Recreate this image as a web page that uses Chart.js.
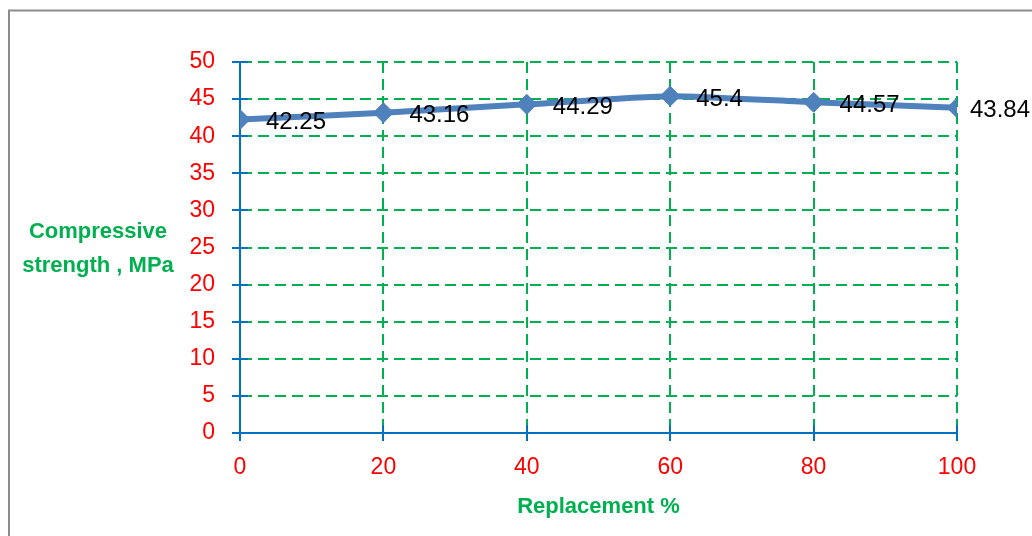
<!DOCTYPE html>
<html>
<head>
<meta charset="utf-8">
<script src="https://cdn.jsdelivr.net/npm/chart.js@4/dist/chart.umd.min.js"></script>
<style>
  html, body { margin: 0; padding: 0; background: #fff; }
  #wrap { width: 1032px; height: 536px; position: relative; }
</style>
</head>
<body>
<div id="wrap"><canvas id="c" width="1032" height="536"></canvas></div>
<script>
const replacement = [0, 20, 40, 60, 80, 100];
const strength = [42.25, 43.16, 44.29, 45.4, 44.57, 43.84];
const xTickValues = [0, 20, 40, 60, 80, 100];
const yTickValues = [0, 5, 10, 15, 20, 25, 30, 35, 40, 45, 50];
const yTitleLines = ['Compressive', 'strength , MPa'];
const xTitle = 'Replacement %';

const FONT = '"Liberation Sans", Arial, sans-serif';
const GREEN = '#00B050';
const BLUE = '#0070C0';
const LINE = '#4F81BD';

const gridColor = (ctx) => (ctx.tick && ctx.tick.value === 0) ? 'rgba(0,0,0,0)' : GREEN;

const extras = {
  id: 'extras',
  beforeDraw(chart) {
    const c = chart.ctx;
    c.save();
    c.strokeStyle = '#8c8c8c';
    c.lineWidth = 2;
    c.strokeRect(9, 10.5, 1200, 800);
    c.restore();
  },
  beforeDatasetsDraw(chart) {
    const c = chart.ctx;
    const xs = chart.scales.x, ys = chart.scales.y;
    const area = chart.chartArea;
    c.save();
    c.strokeStyle = BLUE;
    c.lineWidth = 2;
    c.beginPath();
    yTickValues.forEach(v => {
      const y = Math.round(ys.getPixelForValue(v));
      c.moveTo(area.left, y);
      c.lineTo(area.left + 8, y);
    });
    xTickValues.forEach(v => {
      const x = Math.round(xs.getPixelForValue(v));
      c.moveTo(x, area.bottom);
      c.lineTo(x, area.bottom - 8);
    });
    c.stroke();
    // titles
    c.fillStyle = GREEN;
    c.font = 'bold 22px ' + FONT;
    c.textAlign = 'center';
    c.textBaseline = 'middle';
    c.fillText(yTitleLines[0], 98, 232);
    c.fillText(yTitleLines[1], 98, 266);
    c.fillText(xTitle, (area.left + area.right) / 2, 507);
    c.restore();
  },
  afterDatasetsDraw(chart) {
    const c = chart.ctx;
    const meta = chart.getDatasetMeta(0);
    c.save();
    c.fillStyle = '#000';
    c.font = '24px ' + FONT;
    c.textAlign = 'left';
    c.textBaseline = 'middle';
    meta.data.forEach((pt, i) => {
      const off = (i === meta.data.length - 1) ? 13 : 26;
      c.fillText(String(strength[i]), pt.x + off, pt.y + 3);
    });
    c.restore();
  }
};

new Chart(document.getElementById('c'), {
  type: 'line',
  data: {
    datasets: [{
      data: replacement.map((x, i) => ({ x: x, y: strength[i] })),
      borderColor: LINE,
      backgroundColor: LINE,
      borderWidth: 6,
      pointStyle: 'rectRot',
      pointRadius: 10,
      pointBorderWidth: 1,
      pointBackgroundColor: LINE,
      pointBorderColor: LINE,
      tension: 0.2,
      fill: false
    }]
  },
  options: {
    responsive: false,
    animation: false,
    devicePixelRatio: 1,
    layout: { padding: { left: 0, right: 75, top: 62, bottom: 0 } },
    plugins: { legend: { display: false }, tooltip: { enabled: false }, title: { display: false } },
    scales: {
      x: {
        type: 'linear',
        min: 0, max: 100,
        afterBuildTicks: (s) => { s.ticks = xTickValues.map(v => ({ value: v })); },
        afterFit: (s) => { s.height = 103; },
        ticks: { color: '#FF0000', font: { family: FONT, size: 23 }, padding: 13 },
        grid: { color: gridColor, lineWidth: 2, tickColor: BLUE, tickLength: 8, tickWidth: 2, tickBorderDash: [] },
        border: { display: true, color: BLUE, width: 2, dash: [11, 6] }
      },
      y: {
        type: 'linear',
        min: 0, max: 50,
        afterBuildTicks: (s) => { s.ticks = yTickValues.map(v => ({ value: v })); },
        afterFit: (s) => { s.width = 240; },
        ticks: { color: '#FF0000', font: { family: FONT, size: 23 }, padding: 17 },
        grid: { color: gridColor, lineWidth: 2, tickColor: BLUE, tickLength: 8, tickWidth: 2, tickBorderDash: [] },
        border: { display: true, color: BLUE, width: 2, dash: [11, 6] }
      }
    }
  },
  plugins: [extras]
});
</script>
</body>
</html>
